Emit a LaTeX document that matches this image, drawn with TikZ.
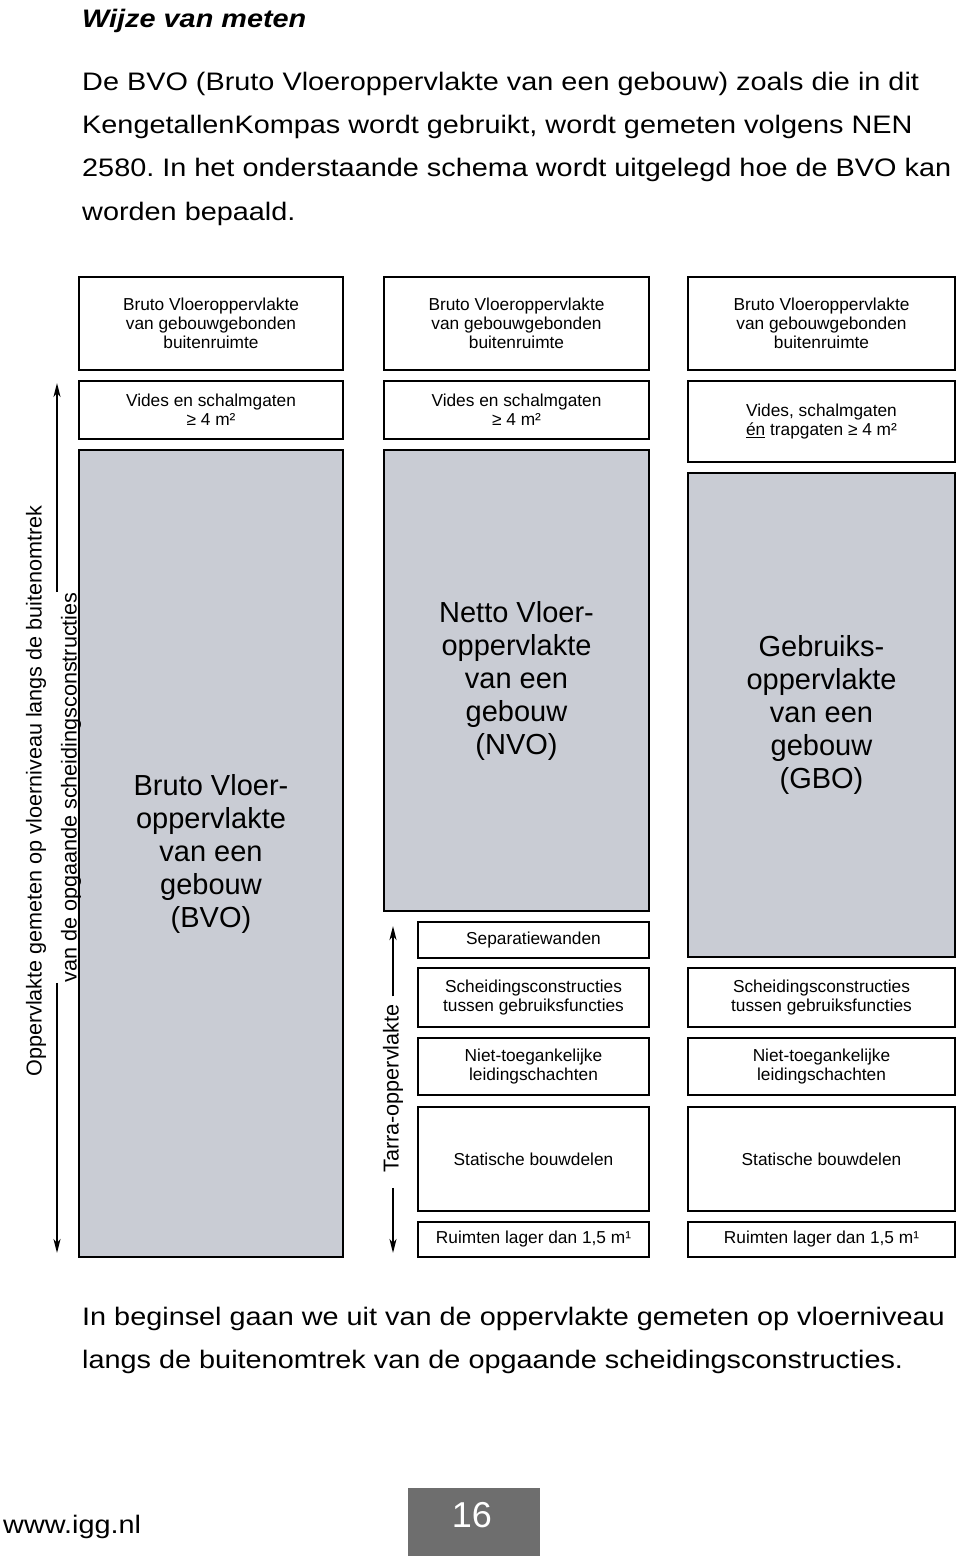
\documentclass[tikz,border=0pt]{standalone}
\usepackage{fontspec}
\setmainfont{Liberation Sans}
\newfontfamily\bodyfont[FakeStretch=1.14]{Liberation Sans}
\usetikzlibrary{arrows.meta}
\frenchspacing
\definecolor{boxgrey}{RGB}{201,204,212}
\definecolor{pagegrey}{RGB}{110,110,110}
\tikzset{
  box/.style={draw=black, line width=2.6pt, fill=white, inner sep=0pt, align=center,
    font=\fontsize{17.3}{19.3}\selectfont},
  bigbox/.style={box, fill=boxgrey, font=\fontsize{29}{33}\selectfont},
  bodytext/.style={anchor=base west, inner sep=0pt, font=\bodyfont\fontsize{25.3}{30}\selectfont},
  dimline/.style={line width=2pt, -{Stealth[length=14pt,width=7pt,inset=4pt]}},
  dimlabel/.style={rotate=90, inner sep=0pt, font=\fontsize{21.6}{26}\selectfont},
}
\begin{document}
\begin{tikzpicture}[x=1pt,y=-1pt]
\useasboundingbox[fill=white] (0,0) rectangle (960,1556);

% heading and intro text
\node[bodytext, font=\bodyfont\bfseries\itshape\fontsize{25.3}{30}\selectfont] (title) at (82,27) {Wijze van meten};
\node[bodytext] (p1) at (82,90) {De BVO (Bruto Vloeroppervlakte van een gebouw) zoals die in dit};
\node[bodytext] (p2) at (82,133.3) {KengetallenKompas wordt gebruikt, wordt gemeten volgens NEN};
\node[bodytext] (p3) at (82,176.6) {2580. In het onderstaande schema wordt uitgelegd hoe de BVO kan};
\node[bodytext] (p4) at (82,220) {worden bepaald.};

% column 1
\node[box, minimum width=264, minimum height=93] (a1) at (211,323.5) {Bruto Vloeroppervlakte\\van gebouwgebonden\\buitenruimte};
\node[box, minimum width=264, minimum height=58] (v1) at (211,410) {Vides en schalmgaten\\≥ 4 m²};
\node[bigbox, minimum width=264, minimum height=807] (bvo) at (211,853.5) {Bruto Vloer-\\oppervlakte\\van een\\gebouw\\(BVO)};

% column 2
\node[box, minimum width=265, minimum height=93] (a2) at (516.5,323.5) {Bruto Vloeroppervlakte\\van gebouwgebonden\\buitenruimte};
\node[box, minimum width=265, minimum height=58] (v2) at (516.5,410) {Vides en schalmgaten\\≥ 4 m²};
\node[bigbox, minimum width=265, minimum height=461] (nvo) at (516.5,680.5) {Netto Vloer-\\oppervlakte\\van een\\gebouw\\(NVO)};
\node[box, minimum width=231, minimum height=36] (sep) at (533.5,940) {Separatiewanden};
\node[box, minimum width=231, minimum height=59] (s2) at (533.5,997.5) {Scheidingsconstructies\\tussen gebruiksfuncties};
\node[box, minimum width=231, minimum height=57] (n2) at (533.5,1066.5) {Niet-toegankelijke\\leidingschachten};
\node[box, minimum width=231, minimum height=104] (st2) at (533.5,1159) {Statische bouwdelen};
\node[box, minimum width=231, minimum height=35] (r2) at (533.5,1239.5) {Ruimten lager dan 1,5 m¹};

% column 3
\node[box, minimum width=267, minimum height=93] (a3) at (821.5,323.5) {Bruto Vloeroppervlakte\\van gebouwgebonden\\buitenruimte};
\node[box, minimum width=267, minimum height=81] (v3) at (821.5,421.5) {Vides, schalmgaten\\\underline{én} trapgaten ≥ 4 m²};
\node[bigbox, minimum width=267, minimum height=484] (gbo) at (821.5,715) {Gebruiks-\\oppervlakte\\van een\\gebouw\\(GBO)};
\node[box, minimum width=267, minimum height=59] (s3) at (821.5,997.5) {Scheidingsconstructies\\tussen gebruiksfuncties};
\node[box, minimum width=267, minimum height=57] (n3) at (821.5,1066.5) {Niet-toegankelijke\\leidingschachten};
\node[box, minimum width=267, minimum height=104] (st3) at (821.5,1159) {Statische bouwdelen};
\node[box, minimum width=267, minimum height=35] (r3) at (821.5,1239.5) {Ruimten lager dan 1,5 m¹};

% left dimension
\node[dimlabel] (lblA) at (36,791) {Oppervlakte gemeten op vloerniveau langs de buitenomtrek};
\node[dimlabel] (lblB) at (71,787.5) {van de opgaande scheidingsconstructies};
\coordinate (topA) at (57,383);
\coordinate (botA) at (57,1253);
\draw[dimline] (topA |- lblB.east) -- (topA);
\draw[dimline] (topA |- lblB.west) -- (botA);

% tarra dimension
\node[dimlabel] (tarra) at (393,1088.5) {Tarra-oppervlakte};
\coordinate (topT) at (393,926);
\coordinate (botT) at (393,1253);
\draw[dimline, shorten <=8pt] (tarra.east) -- (topT);
\draw[dimline, shorten <=15pt] (tarra.west) -- (botT);

% closing text
\node[bodytext] (q1) at (82,1325) {In beginsel gaan we uit van de oppervlakte gemeten op vloerniveau};
\node[bodytext] (q2) at (82,1368) {langs de buitenomtrek van de opgaande scheidingsconstructies.};

% footer
\node[bodytext] (url) at (3,1533) {www.igg.nl};
\node[fill=pagegrey, inner sep=0pt, minimum width=132, minimum height=68] (pg) at (474,1522) {};
\node[text=white, inner sep=0pt, font=\fontsize{36}{40}\selectfont] (pn) at (472,1515) {16};
\end{tikzpicture}
\end{document}
